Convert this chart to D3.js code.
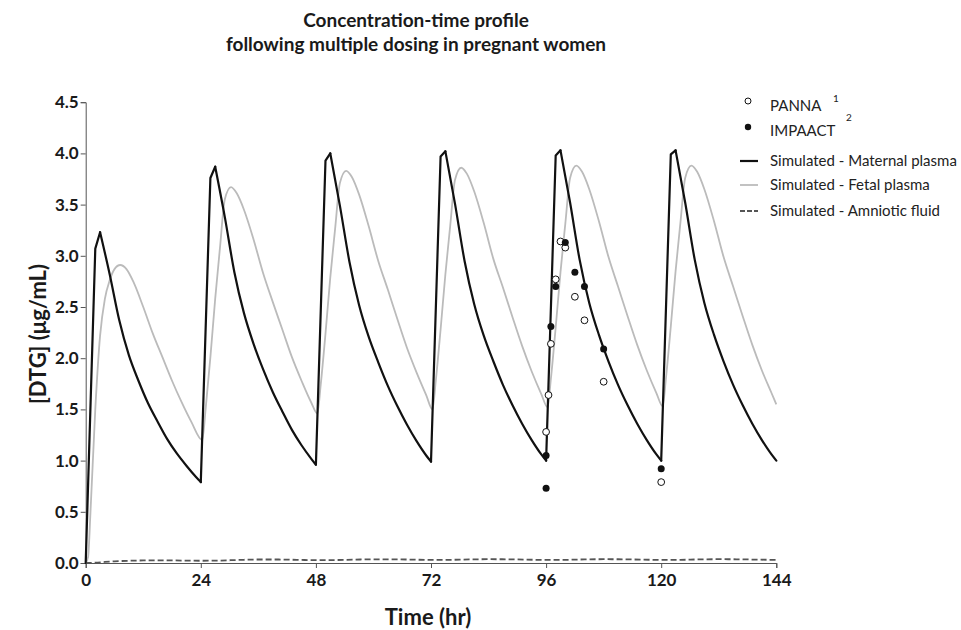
<!DOCTYPE html>
<html>
<head>
<meta charset="utf-8">
<script src="https://cdn.jsdelivr.net/npm/d3@7"></script>
<style>
  body { margin: 0; background: #fff; }
  text { font-family: Lato, "Open Sans", sans-serif; }
</style>
</head>
<body>
<div id="chart"></div>
<script>
// values
const xTicks = [0, 24, 48, 72, 96, 120, 144];
const yTicks = [0, 0.5, 1, 1.5, 2, 2.5, 3, 3.5, 4, 4.5];

const maternalTime = [0, 2, 3, 5, 7, 9, 11, 13, 15, 17, 19, 21, 23,
  24, 26, 27, 29, 31, 33, 35, 37, 39, 41, 43, 45, 47,
  48, 50, 51, 53, 55, 57, 59, 61, 63, 65, 67, 69, 71,
  72, 74, 75, 77, 79, 81, 83, 85, 87, 89, 91, 93, 95,
  96, 98, 99, 101, 103, 105, 107, 109, 111, 113, 115, 117, 119,
  120, 122, 123, 125, 127, 129, 131, 133, 135, 137, 139, 141, 143, 144];
const maternalConc = [0, 3.07, 3.23, 2.82, 2.37, 2.03, 1.78, 1.56, 1.38, 1.21, 1.07, 0.95, 0.84,
  0.79, 3.76, 3.87, 3.38, 2.84, 2.44, 2.14, 1.89, 1.67, 1.48, 1.30, 1.15, 1.02,
  0.96, 3.93, 4.00, 3.49, 2.94, 2.52, 2.21, 1.96, 1.73, 1.53, 1.35, 1.19, 1.05,
  0.99, 3.97, 4.02, 3.51, 2.95, 2.53, 2.22, 1.97, 1.74, 1.54, 1.36, 1.20, 1.06,
  1.00, 3.98, 4.03, 3.52, 2.96, 2.54, 2.23, 1.97, 1.74, 1.54, 1.36, 1.20, 1.06,
  1.00, 3.99, 4.03, 3.52, 2.96, 2.54, 2.23, 1.97, 1.74, 1.54, 1.36, 1.20, 1.06, 1.00];

const fetalTime = [0, 0.5, 1, 2, 3, 4, 5, 6, 7.2, 8.5, 10, 12, 14, 16, 18, 20, 22,
  24.3, 25, 26, 27, 28, 29, 30.3, 31.5, 33, 35, 37, 39, 41, 43, 45, 47,
  48.3, 49, 50, 51, 52, 53, 54.3, 55.5, 57, 59, 61, 63, 65, 67, 69, 71,
  72.3, 73, 74, 75, 76, 77, 78.3, 79.5, 81, 83, 85, 87, 89, 91, 93, 95,
  96.3, 97, 98, 99, 100, 101, 102.3, 103.5, 105, 107, 109, 111, 113, 115, 117, 119,
  120.3, 121, 122, 123, 124, 125, 126.3, 127.5, 129, 131, 133, 135, 137, 139, 141, 143, 144];
const fetalConc = [0, 0.06, 0.5, 1.5, 2.22, 2.58, 2.76, 2.87, 2.91, 2.87, 2.74, 2.50, 2.24, 2.01, 1.78, 1.57, 1.38,
  1.20, 1.50, 2.01, 2.58, 3.08, 3.55, 3.67, 3.61, 3.45, 3.16, 2.83, 2.55, 2.28, 2.01, 1.78, 1.57,
  1.46, 1.74, 2.24, 2.79, 3.26, 3.71, 3.83, 3.77, 3.60, 3.29, 2.95, 2.67, 2.38, 2.10, 1.86, 1.64,
  1.50, 1.78, 2.28, 2.82, 3.29, 3.74, 3.86, 3.80, 3.63, 3.32, 2.97, 2.69, 2.40, 2.12, 1.87, 1.65,
  1.52, 1.80, 2.30, 2.84, 3.31, 3.76, 3.88, 3.82, 3.65, 3.34, 2.99, 2.70, 2.41, 2.13, 1.88, 1.66,
  1.53, 1.81, 2.31, 2.85, 3.32, 3.76, 3.88, 3.82, 3.65, 3.34, 2.99, 2.70, 2.41, 2.13, 1.88, 1.66, 1.55];

const amnioticTime = [0, 2, 4, 6, 9, 12, 16, 20, 24, 28, 32, 36, 40, 44, 48, 52, 56, 60, 64, 68, 72,
  76, 80, 84, 88, 92, 96, 100, 104, 108, 112, 116, 120, 124, 128, 132, 136, 140, 144];
const amnioticConc = [0, 0.003, 0.01, 0.016, 0.022, 0.025, 0.026, 0.024, 0.022, 0.024, 0.030, 0.034, 0.034,
  0.031, 0.028, 0.029, 0.033, 0.036, 0.036, 0.033, 0.030, 0.031, 0.035, 0.037, 0.036, 0.033, 0.030,
  0.031, 0.035, 0.037, 0.036, 0.033, 0.030, 0.031, 0.035, 0.037, 0.036, 0.033, 0.030];

const pannaTime = [96, 96.5, 97, 98, 99, 100, 102, 104, 108, 120];
const pannaConc = [1.28, 1.64, 2.14, 2.77, 3.14, 3.08, 2.60, 2.37, 1.77, 0.79];
const impaactTime = [96, 96, 97, 98, 100, 102, 104, 108, 120];
const impaactConc = [0.73, 1.05, 2.31, 2.70, 3.13, 2.84, 2.70, 2.09, 0.92];

const titleLines = ["Concentration-time profile", "following multiple dosing in pregnant women"];
const legendLabels = ["PANNA", "IMPAACT", "Simulated - Maternal plasma", "Simulated - Fetal plasma", "Simulated - Amniotic fluid"];
const legendSup = ["1", "2"];

const width = 961, height = 630;

const svg = d3.select("#chart")
  .append("svg")
  .attr("width", width)
  .attr("height", height);

const x = d3.scaleLinear().domain([0, 144]).range([85.7, 776.3]);
const y = d3.scaleLinear().domain([0, 4.5]).range([563, 102.2]);

const zip = (ts, vs) => ts.map((t, i) => [t, vs[i]]);

// title
svg.append("g").selectAll("text")
  .data(titleLines)
  .join("text")
  .attr("x", 416)
  .attr("y", (d, i) => 27 + i * 24)
  .attr("text-anchor", "middle")
  .attr("font-size", 19)
  .attr("font-weight", "bold")
  .attr("fill", "#1a1a1a")
  .text(d => d);

// axes
const xAxis = svg.append("g")
  .attr("transform", `translate(0,${y(0)})`)
  .call(d3.axisBottom(x).tickValues(xTicks).tickSize(5).tickPadding(6));
const yAxis = svg.append("g")
  .attr("transform", `translate(${x(0)},0)`)
  .call(d3.axisLeft(y).tickValues(yTicks).tickFormat(d3.format(".1f")).tickSize(5).tickPadding(2));

[xAxis, yAxis].forEach(a => {
  a.select(".domain").attr("stroke", "#555");
  a.selectAll(".tick line").attr("stroke", "#555");
  a.selectAll(".tick text")
    .attr("font-size", 17)
    .attr("font-weight", "bold")
    .attr("fill", "#1a1a1a")
    .style("font-family", "Lato, sans-serif");
});

svg.append("text")
  .attr("x", 428)
  .attr("y", 625)
  .attr("text-anchor", "middle")
  .attr("font-size", 22)
  .attr("font-weight", "bold")
  .attr("fill", "#1a1a1a")
  .text("Time (hr)");

svg.append("text")
  .attr("transform", "translate(46,334) rotate(-90)")
  .attr("text-anchor", "middle")
  .attr("font-size", 22)
  .attr("font-weight", "bold")
  .attr("fill", "#1a1a1a")
  .text("[DTG] (μg/mL)");

// simulated curves
const smooth = d3.line().x(d => x(d[0])).y(d => y(d[1])).curve(d3.curveMonotoneX);
const straight = d3.line().x(d => x(d[0])).y(d => y(d[1]));

svg.append("path")
  .attr("d", smooth(zip(amnioticTime, amnioticConc)))
  .attr("fill", "none")
  .attr("stroke", "#555")
  .attr("stroke-width", 1.8)
  .attr("stroke-dasharray", "6,3");

svg.append("path")
  .attr("d", smooth(zip(fetalTime, fetalConc)))
  .attr("fill", "none")
  .attr("stroke", "#bbb")
  .attr("stroke-width", 1.8);

// maternal: straight absorption rise, smooth elimination decay
const maternal = zip(maternalTime, maternalConc);
const turns = [0];
for (let i = 1; i < maternal.length - 1; i++) {
  const up = maternal[i][1] > maternal[i - 1][1];
  const down = maternal[i][1] > maternal[i + 1][1];
  if (up === down) turns.push(i); // local peak or trough
}
turns.push(maternal.length - 1);

const mg = svg.append("g")
  .attr("fill", "none")
  .attr("stroke", "#111")
  .attr("stroke-width", 2.2)
  .attr("stroke-linejoin", "round")
  .attr("stroke-linecap", "round");
for (let k = 0; k < turns.length - 1; k++) {
  const seg = maternal.slice(turns[k], turns[k + 1] + 1);
  const rising = seg[seg.length - 1][1] > seg[0][1];
  mg.append("path").attr("d", (rising ? straight : smooth)(seg));
}

// observed data
svg.append("g").selectAll("circle")
  .data(zip(pannaTime, pannaConc))
  .join("circle")
  .attr("cx", d => x(d[0]))
  .attr("cy", d => y(d[1]))
  .attr("r", 3.4)
  .attr("fill", "#fff")
  .attr("stroke", "#111")
  .attr("stroke-width", 1);

svg.append("g").selectAll("circle")
  .data(zip(impaactTime, impaactConc))
  .join("circle")
  .attr("cx", d => x(d[0]))
  .attr("cy", d => y(d[1]))
  .attr("r", 3.5)
  .attr("fill", "#111");

// legend
const legend = svg.append("g");
const rowY = [106, 131, 161, 185, 211];

legend.append("circle").attr("cx", 748).attr("cy", 101).attr("r", 3)
  .attr("fill", "#fff").attr("stroke", "#111");
legend.append("circle").attr("cx", 748).attr("cy", 127).attr("r", 3.2)
  .attr("fill", "#111");
legend.append("line").attr("x1", 740).attr("x2", 758).attr("y1", rowY[2]).attr("y2", rowY[2])
  .attr("stroke", "#111").attr("stroke-width", 2.2);
legend.append("line").attr("x1", 740).attr("x2", 758).attr("y1", rowY[3]).attr("y2", rowY[3])
  .attr("stroke", "#bbb").attr("stroke-width", 1.8);
legend.append("line").attr("x1", 740).attr("x2", 758).attr("y1", rowY[4]).attr("y2", rowY[4])
  .attr("stroke", "#555").attr("stroke-width", 1.8).attr("stroke-dasharray", "5,2");

legend.selectAll("text.lab")
  .data(legendLabels)
  .join("text")
  .attr("class", "lab")
  .attr("x", 770)
  .attr("y", (d, i) => rowY[i])
  .attr("dy", "0.35em")
  .attr("font-size", 15)
  .attr("fill", "#222")
  .text(d => d);

legend.selectAll("text.sup")
  .data(legendSup)
  .join("text")
  .attr("class", "sup")
  .attr("x", (d, i) => [833, 846][i])
  .attr("y", (d, i) => [98, 117][i])
  .attr("dy", "0.35em")
  .attr("font-size", 10)
  .attr("fill", "#222")
  .text(d => d);
</script>
</body>
</html>
